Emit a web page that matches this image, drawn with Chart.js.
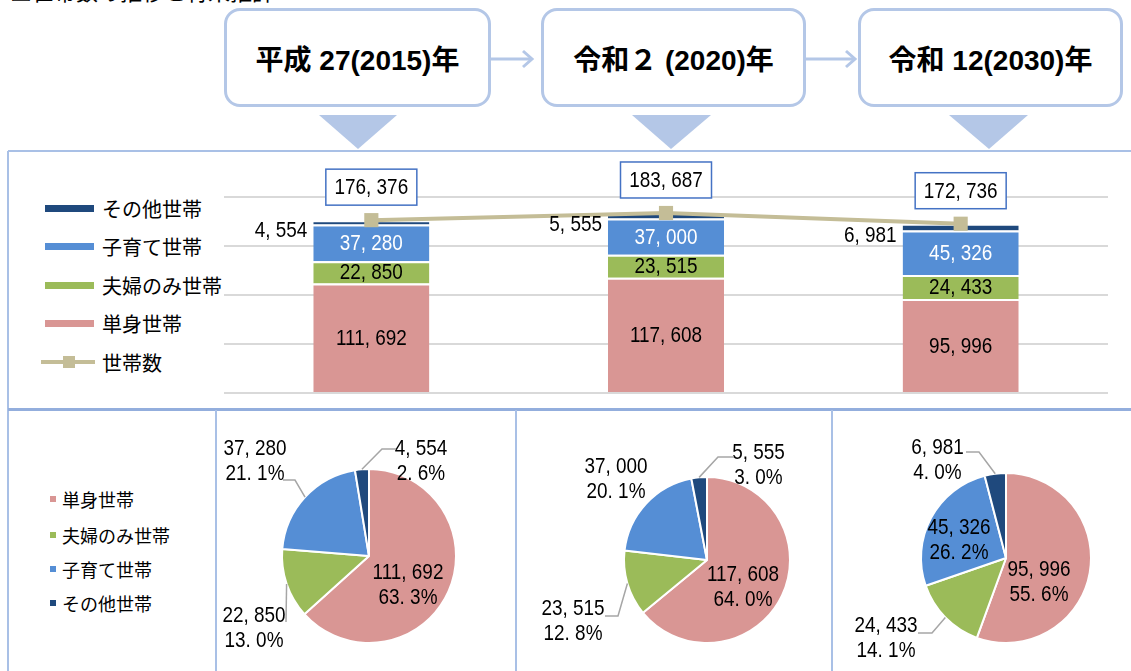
<!DOCTYPE html>
<html lang="ja">
<head>
<meta charset="utf-8">
<script src="https://cdn.jsdelivr.net/npm/chart.js@4.4.1/dist/chart.umd.min.js"></script>
<style>
  body { margin: 0; width: 1131px; height: 671px; overflow: hidden; background: #fff; position: relative;
         font-family: "Noto Sans CJK JP", sans-serif; color: #000; }
  .abs { position: absolute; }
  #title { left: 10px; top: -23px; font-size: 22px; line-height: 26px; white-space: nowrap; }
  .yearbox { position: absolute; top: 8px; height: 99px; box-sizing: border-box; border: 3px solid #B4C7E7;
             border-radius: 16px; background: #fff; display: flex; align-items: center; justify-content: center;
             font-weight: bold; font-size: 28px; white-space: nowrap;
             font-family: "Liberation Sans", "Noto Sans CJK JP", sans-serif; }
  .leg { position: absolute; white-space: nowrap; }
  .leg .mk { position: absolute; }
  .leg span { position: absolute; transform: translateY(-50%); }
  canvas { position: absolute; }
</style>
</head>
<body>
<div id="title" class="abs">□世帯数の推移と将来推計</div>

<svg class="abs" style="left:0;top:0" width="1131" height="671">
  <g stroke="#B4C7E7" stroke-width="3" fill="none">
    <line x1="491" y1="59" x2="532" y2="59"/>
    <polyline points="523,51 532,59 523,67"/>
    <line x1="806" y1="59" x2="855" y2="59"/>
    <polyline points="846,51 855,59 846,67"/>
  </g>
  <g fill="#B4C7E7">
    <polygon points="319,115 397,115 358,149"/>
    <polygon points="632,115 711,115 671,149"/>
    <polygon points="949,115 1028,115 989,149"/>
  </g>
  <g stroke="#A9C0E6" stroke-width="2" fill="none">
    <line x1="8" y1="151" x2="1131" y2="151"/>
    <line x1="8" y1="151" x2="8" y2="671"/>
  </g>
  <g stroke="#93AEDD" stroke-width="3" fill="none">
    <line x1="8" y1="409.5" x2="1131" y2="409.5"/>
  </g>
  <g stroke="#A9C0E6" stroke-width="2" fill="none">
    <line x1="216" y1="410" x2="216" y2="671"/>
    <line x1="516" y1="410" x2="516" y2="671"/>
    <line x1="832" y1="410" x2="832" y2="671"/>
  </g>
</svg>

<div id="boxes"></div>
<div id="barLegend"></div>
<div id="pieLegend"></div>

<canvas id="bar" style="left:0;top:151px" width="1131" height="257"></canvas>
<canvas id="pie0" style="left:216px;top:411px" width="300" height="260"></canvas>
<canvas id="pie1" style="left:516px;top:411px" width="316" height="260"></canvas>
<canvas id="pie2" style="left:832px;top:411px" width="299" height="260"></canvas>

<script>
const categories = ['平成 27(2015)年', '令和２ (2020)年', '令和 12(2030)年'];
const seriesNames = ['単身世帯', '夫婦のみ世帯', '子育て世帯', 'その他世帯'];
const totalName = '世帯数';
const singleHouseholds = [111692, 117608, 95996];
const coupleHouseholds = [22850, 23515, 24433];
const childHouseholds = [37280, 37000, 45326];
const otherHouseholds = [4554, 5555, 6981];
const totalHouseholds = [176376, 183687, 172736];
const yMax = 200000;
const yStep = 50000;

const seriesColors = ['#D99694', '#9BBB59', '#558ED5', '#1F497D'];
const totalColor = '#C4BD97';
const NUM_FONT = '"Liberation Sans", "Noto Sans CJK JP", sans-serif';
const NUM_SQUEEZE = 0.86;

function fmt(v) { return v.toLocaleString('en-US').replace(/,/g, ', '); }
function pct(v, t) { return (v / t * 100).toFixed(1).replace('.', '. ') + '%'; }

// condensed number text, like the narrow font of the original
function narrowText(ctx, text, x, y) {
  ctx.save();
  ctx.translate(x, y);
  ctx.scale(NUM_SQUEEZE, 1);
  ctx.fillText(text, 0, 0);
  ctx.restore();
}

// year header boxes
const boxPos = [[224, 267], [541, 265], [858, 265]];
const boxes = document.getElementById('boxes');
categories.forEach((c, i) => {
  const d = document.createElement('div');
  d.className = 'yearbox';
  d.style.left = boxPos[i][0] + 'px';
  d.style.width = boxPos[i][1] + 'px';
  d.textContent = c;
  boxes.appendChild(d);
});

// legend of the bar chart (top-down order like the reference)
const barLegend = document.getElementById('barLegend');
const barLegendRows = [[3, 208], [2, 246], [1, 285], [0, 323]];
barLegendRows.forEach(([k, y]) => {
  barLegend.insertAdjacentHTML('beforeend',
    `<div class="leg" style="left:0;top:${y}px;font-size:20px">
       <div class="mk" style="left:45px;top:-3.5px;width:49px;height:7px;background:${seriesColors[k]}"></div>
       <span style="left:102px">${seriesNames[k]}</span></div>`);
});
barLegend.insertAdjacentHTML('beforeend',
  `<div class="leg" style="left:0;top:362px;font-size:20px">
     <div class="mk" style="left:41px;top:-2px;width:54px;height:4px;background:${totalColor}"></div>
     <div class="mk" style="left:63px;top:-6px;width:12px;height:12px;background:${totalColor}"></div>
     <span style="left:102px">${totalName}</span></div>`);

// legend of the pies
const pieLegend = document.getElementById('pieLegend');
[499, 535, 569, 603].forEach((y, k) => {
  pieLegend.insertAdjacentHTML('beforeend',
    `<div class="leg" style="left:0;top:${y}px;font-size:18px">
       <div class="mk" style="left:50px;top:-3px;width:6px;height:6px;background:${seriesColors[k]}"></div>
       <span style="left:62px">${seriesNames[k]}</span></div>`);
});

// bar + line chart
const barLabels = {
  id: 'barLabels',
  afterDatasetsDraw(chart) {
    const ctx = chart.ctx;
    ctx.save();
    ctx.font = '22px ' + NUM_FONT;
    ctx.textBaseline = 'middle';
    chart.data.datasets.forEach((ds, i) => {
      const meta = chart.getDatasetMeta(i);
      meta.data.forEach((el, j) => {
        const text = fmt(ds.data[j]);
        if (ds.type === 'line') {
          const w = 91, h = 36, cx = el.x, cy = el.y - 33;
          ctx.fillStyle = '#fff';
          ctx.fillRect(cx - w / 2, cy - h / 2, w, h);
          ctx.strokeStyle = '#4472C4';
          ctx.lineWidth = 1.5;
          ctx.strokeRect(cx - w / 2, cy - h / 2, w, h);
          ctx.fillStyle = '#000';
          ctx.textAlign = 'center';
          narrowText(ctx, text, cx, cy + 1);
        } else if (ds.labelOutside) {
          ctx.fillStyle = '#000';
          ctx.textAlign = 'right';
          narrowText(ctx, text, el.x - el.width / 2 - 6, (el.y + el.base) / 2 + 9);
        } else {
          ctx.fillStyle = ds.labelColor;
          ctx.textAlign = 'center';
          narrowText(ctx, text, el.x, (el.y + el.base) / 2 + 1);
        }
      });
    });
    ctx.restore();
  }
};

const barSeries = [singleHouseholds, coupleHouseholds, childHouseholds, otherHouseholds];
const labelColors = ['#000', '#000', '#fff', '#000'];

new Chart(document.getElementById('bar'), {
  type: 'bar',
  data: {
    labels: categories,
    datasets: [
      ...barSeries.map((data, k) => ({
        label: seriesNames[k],
        data,
        backgroundColor: seriesColors[k],
        borderColor: '#fff',
        borderWidth: { top: 2, left: 0, right: 0, bottom: 0 },
        borderSkipped: false,
        stack: 'bars',
        order: 1,
        labelColor: labelColors[k],
        labelOutside: k === 3
      })),
      {
        type: 'line',
        label: totalName,
        data: totalHouseholds,
        borderColor: totalColor,
        borderWidth: 4,
        pointStyle: 'rect',
        pointRadius: 10,
        pointBackgroundColor: totalColor,
        pointBorderWidth: 0,
        stack: 'line',
        order: 0
      }
    ]
  },
  options: {
    responsive: false,
    animation: false,
    events: [],
    layout: { padding: { left: 224, right: 23, top: 46, bottom: 15 } },
    datasets: { bar: { barPercentage: 0.394, categoryPercentage: 1 } },
    scales: {
      x: { stacked: true, display: false },
      y: {
        stacked: true,
        min: 0,
        max: yMax,
        ticks: { display: false, stepSize: yStep },
        grid: { color: '#D9D9D9', lineWidth: 2, drawTicks: false },
        border: { display: false }
      }
    },
    plugins: { legend: { display: false }, tooltip: { enabled: false } }
  },
  plugins: [barLabels]
});

// pies
const pieLayouts = [
  { cx: 369, cy: 556, r: 87, labels: [
      { dx: 39, dy: 29.5 },
      { dx: -115, dy: 72.5, lead: [-83, 66, -83, 66] },
      { dx: -114, dy: -94.5, lead: [-86, -76, -74, -76] },
      { dx: 52, dy: -94.5, lead: [27, -107, 13, -107] } ] },
  { cx: 707, cy: 560, r: 83, labels: [
      { dx: 36, dy: 27 },
      { dx: -134, dy: 61, lead: [-102, 56, -89, 56] },
      { dx: -91, dy: -80.5 },
      { dx: 51.5, dy: -95, lead: [27, -103, 11, -103] } ] },
  { cx: 1006, cy: 558, r: 85, labels: [
      { dx: 33, dy: 24.5 },
      { dx: -120, dy: 80.5, lead: [-88, 75, -74, 75] },
      { dx: -47, dy: -18 },
      { dx: -68.5, dy: -97.5, lead: [-40, -106, -27, -106] } ] }
];

const pieLabels = {
  id: 'pieLabels',
  afterDatasetsDraw(chart, args, opts) {
    const ctx = chart.ctx;
    const ds = chart.data.datasets[0];
    const meta = chart.getDatasetMeta(0);
    ctx.save();
    ctx.font = '22px ' + NUM_FONT;
    ctx.textAlign = 'center';
    ctx.textBaseline = 'middle';
    meta.data.forEach((el, k) => {
      const lab = opts.labels[k];
      const x = el.x + lab.dx, y = el.y + lab.dy;
      ctx.fillStyle = '#000';
      narrowText(ctx, fmt(ds.data[k]), x, y - 12.5);
      narrowText(ctx, pct(ds.data[k], opts.total), x, y + 12.5);
      if (lab.lead) {
        const mid = (el.startAngle + el.endAngle) / 2;
        ctx.strokeStyle = '#A6A6A6';
        ctx.lineWidth = 1.5;
        ctx.beginPath();
        ctx.moveTo(el.x + lab.lead[0], el.y + lab.lead[1]);
        ctx.lineTo(el.x + lab.lead[2], el.y + lab.lead[3]);
        ctx.lineTo(el.x + Math.cos(mid) * el.outerRadius, el.y + Math.sin(mid) * el.outerRadius);
        ctx.stroke();
      }
    });
    ctx.restore();
  }
};

pieLayouts.forEach((pl, j) => {
  const canvas = document.getElementById('pie' + j);
  const left = parseFloat(canvas.style.left), top = parseFloat(canvas.style.top);
  const W = canvas.width, H = canvas.height;
  const rx = pl.cx - left, ry = pl.cy - top;
  const pad = {
    left: Math.max(0, 2 * rx - W), right: Math.max(0, W - 2 * rx),
    top: Math.max(0, 2 * ry - H), bottom: Math.max(0, H - 2 * ry)
  };
  new Chart(canvas, {
    type: 'pie',
    data: {
      labels: seriesNames,
      datasets: [{
        data: barSeries.map(s => s[j]),
        backgroundColor: seriesColors,
        borderColor: '#fff',
        borderWidth: 2
      }]
    },
    options: {
      responsive: false,
      animation: false,
      events: [],
      radius: pl.r,
      layout: { padding: pad },
      plugins: {
        legend: { display: false },
        tooltip: { enabled: false },
        pieLabels: { labels: pl.labels, total: totalHouseholds[j] }
      }
    },
    plugins: [pieLabels]
  });
});
</script>
</body>
</html>
